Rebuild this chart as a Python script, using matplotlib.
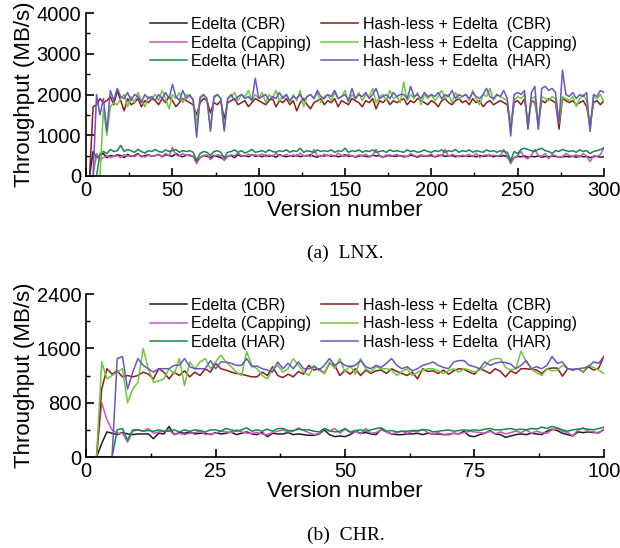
import matplotlib
matplotlib.use('Agg')  # no UI backend

import numpy as np
import matplotlib.pyplot as plt
from matplotlib.ticker import MultipleLocator

# ---- LNX (top), one value every 2 versions: 0, 2, ..., 300
lnx_versions = list(range(0, 301, 2))

lnx_edelta_cbr = [
    0, 0, 600, 450, 500, 550, 450, 500, 480, 520,
    500, 450, 530, 480, 500, 550, 470, 500, 520, 480,
    500, 530, 470, 520, 500, 480, 550, 500, 470, 510,
    500, 480, 350, 450, 500, 480, 450, 500, 480, 450,
    400, 480, 500, 450, 520, 480, 500, 470, 520, 480,
    500, 470, 510, 480, 500, 460, 520, 490, 470, 500,
    480, 510, 470, 500, 490, 520, 480, 460, 500, 490,
    510, 480, 500, 470, 490, 520, 480, 500, 460, 490,
    500, 480, 470, 510, 490, 500, 460, 490, 510, 480,
    490, 500, 470, 480, 510, 490, 460, 500, 480, 490,
    500, 470, 490, 510, 480, 490, 500, 470, 490, 480,
    500, 480, 490, 470, 500, 480, 490, 510, 470, 490,
    480, 500, 470, 350, 450, 480, 470, 490, 460, 480,
    470, 490, 460, 480, 470, 490, 480, 460, 470, 480,
    470, 480, 460, 490, 470, 480, 450, 470, 480, 460, 470]

lnx_edelta_capping = [
    0, 0, 0, 550, 400, 450, 500, 450, 480, 500,
    450, 520, 480, 500, 470, 530, 490, 460, 510, 480,
    500, 520, 480, 550, 500, 700, 520, 480, 550, 500,
    520, 480, 300, 450, 500, 520, 400, 480, 520, 500,
    380, 470, 520, 490, 560, 500, 480, 530, 500, 520,
    500, 540, 470, 520, 480, 550, 500, 490, 530, 480,
    520, 480, 560, 490, 510, 470, 650, 500, 480, 530,
    490, 520, 470, 560, 500, 480, 530, 490, 470, 520,
    500, 530, 480, 500, 660, 490, 450, 520, 480, 500,
    530, 480, 500, 470, 550, 500, 480, 520, 490, 500,
    540, 460, 520, 490, 650, 480, 530, 500, 470, 510,
    490, 530, 470, 560, 450, 500, 520, 480, 510, 490,
    500, 650, 480, 300, 450, 500, 600, 450, 420, 520,
    650, 500, 480, 550, 420, 520, 500, 450, 480, 550,
    500, 480, 520, 460, 550, 480, 350, 500, 480, 520, 700]

lnx_edelta_har = [
    0, 0, 0, 0, 550, 600, 550, 650, 600, 620,
    750, 600, 650, 620, 580, 650, 600, 560, 620, 600,
    650, 600, 580, 640, 600, 620, 650, 580, 620, 600,
    620, 580, 380, 550, 600, 580, 500, 600, 620, 580,
    450, 580, 600, 640, 580, 620, 560, 600, 650, 580,
    600, 620, 580, 640, 600, 580, 620, 600, 640, 580,
    620, 600, 680, 580, 620, 600, 580, 640, 600, 620,
    600, 640, 580, 620, 600, 680, 580, 620, 600, 640,
    580, 620, 600, 640, 580, 600, 620, 580, 640, 600,
    620, 600, 580, 640, 600, 620, 580, 600, 640, 600,
    580, 620, 600, 640, 580, 620, 600, 650, 580, 620,
    600, 640, 580, 620, 600, 580, 640, 600, 620, 580,
    620, 600, 580, 380, 600, 550, 650, 680, 650, 620,
    600, 650, 680, 620, 600, 550, 620, 600, 650, 620,
    600, 620, 580, 640, 600, 620, 550, 600, 620, 650, 680]

lnx_hashless_cbr = [
    0, 0, 1700, 1750, 1900, 1800, 1850, 1950, 1750, 2100,
    1850, 1600, 1900, 1750, 1800, 1900, 1700, 1850, 1800, 1900,
    1850, 1750, 1900, 1800, 1950, 1850, 1700, 1800, 1900, 1850,
    1800, 1750, 1500, 1800, 1900, 1850, 1550, 1800, 1750, 1850,
    1400, 1800, 1850, 1900, 1750, 1800, 1850, 1700, 1800, 1900,
    1850, 1800, 1750, 1850, 1900, 1700, 1850, 1800, 1900, 1750,
    1850, 1600, 1800, 1900, 1750, 1650, 1800, 1850, 1900, 1750,
    1850, 1800, 1900, 1700, 1850, 1800, 1750, 1900, 1850, 1800,
    1700, 1850, 1800, 1900, 1650, 1850, 1800, 1900, 1750, 1850,
    1800, 1850, 1900, 1750, 1850, 1800, 1900, 1850, 1800, 1750,
    1850, 1800, 1700, 1850, 1900, 1800, 1750, 1850, 1900, 1800,
    1850, 1750, 1900, 1800, 1850, 1700, 1800, 1850, 1750, 1800,
    1850, 1800, 1750, 1200, 1800, 1850, 1750, 1900, 1300, 1850,
    1800, 1300, 1850, 1800, 1900, 1850, 1800, 1150, 1900, 1850,
    1800, 1850, 1750, 1800, 1850, 1700, 1250, 1800, 1850, 1750, 1850]

lnx_hashless_capping = [
    0, 0, 0, 0, 0, 1650, 1000, 1700, 1800, 1750,
    1900, 2000, 1700, 1950, 1800, 2050, 1850, 1700, 1950, 1900,
    2000, 1850, 2100, 1900, 1650, 2000, 1900, 2050, 1800, 2000,
    1950, 1900, 1250, 1950, 2000, 1850, 1150, 1900, 2000, 1900,
    1150, 1900, 1950, 2050, 1850, 2000, 1950, 2100, 1850, 2000,
    1900, 2050, 1800, 2000, 1900, 2100, 1850, 1950, 2000, 1800,
    2000, 1850, 2100, 1700, 1950, 2000, 1900, 2050, 1800, 1950,
    2000, 1850, 2050, 1900, 1950, 2100, 1800, 2000, 1900, 2050,
    1850, 2000, 1950, 2150, 1800, 1950, 2000, 1850, 2100, 1900,
    1950, 1800, 2300, 1850, 2000, 1900, 2050, 1750, 2000, 1900,
    2000, 1850, 1950, 2100, 1900, 2000, 1800, 2050, 1900, 1950,
    2000, 1850, 2100, 1900, 1750, 2000, 1950, 2150, 1850, 2000,
    1950, 1900, 1850, 1300, 1850, 1950, 1900, 2000, 1150, 1900,
    1950, 1150, 1950, 1900, 1850, 1950, 1900, 1300, 1950, 1900,
    1850, 1950, 1700, 1900, 2000, 1850, 1100, 1950, 1900, 2000, 1800]

lnx_hashless_har = [
    0, 0, 0, 2000, 1500, 1900, 1100, 2100, 1850, 2150,
    1950, 1900, 2050, 1850, 2000, 1950, 1800, 2000, 1900, 1950,
    1850, 2000, 1900, 2050, 1900, 2250, 1950, 1850, 2100, 1900,
    2000, 1850, 950, 1900, 2000, 1900, 1100, 1950, 2000, 1900,
    1100, 1900, 2000, 1850, 1950, 2000, 1900, 1950, 1850, 2400,
    1900, 1950, 2000, 1850, 1950, 1900, 2050, 1900, 2000, 1850,
    1950, 1900, 2000, 1850, 1950, 2000, 1900, 2100, 1950, 1900,
    2000, 1950, 2100, 1900, 1950, 2000, 1850, 2150, 1900, 2000,
    1950, 2050, 1900, 2000, 2150, 1900, 1950, 2000, 1900, 2050,
    1950, 2000, 2000, 1900, 2200, 1950, 2000, 1900, 2050, 1950,
    2000, 1950, 2050, 1900, 2000, 1950, 2100, 1900, 2000, 1950,
    2000, 1900, 2050, 1950, 1900, 2000, 2150, 1950, 1900, 2000,
    1950, 2100, 1900, 980, 2000, 2050, 2000, 2100, 1150, 2050,
    2200, 1150, 2150, 2200, 2100, 2150, 2050, 1300, 2600, 2000,
    1950, 2050, 1900, 2000, 1950, 2050, 1100, 2000, 1950, 2100, 2050]

# ---- CHR (bottom), versions 0..100
chr_versions = list(range(0, 101))

chr_edelta_cbr = [
    0, 0, 0, 200, 370, 350, 330, 360, 340, 330,
    340, 340, 340, 270, 350, 340, 450, 330, 360, 350,
    370, 340, 350, 350, 330, 360, 340, 350, 370, 330,
    350, 370, 340, 330, 360, 300, 350, 340, 340, 360,
    330, 340, 330, 320, 320, 340, 400, 330, 300, 310,
    300, 330, 380, 350, 360, 340, 330, 410, 370, 340,
    330, 330, 340, 340, 350, 330, 350, 340, 340, 330,
    330, 350, 340, 380, 310, 300, 330, 350, 390, 340,
    330, 290, 310, 330, 340, 330, 350, 340, 330, 380,
    410, 390, 350, 330, 310, 370, 360, 370, 360, 360, 400]

chr_edelta_capping = [
    0, 0, 0, 800, 550, 400, 350, 350, 220, 380,
    400, 380, 420, 350, 370, 380, 400, 330, 350, 330,
    350, 360, 380, 330, 340, 350, 380, 370, 360, 400,
    370, 350, 350, 360, 340, 330, 360, 380, 400, 370,
    380, 430, 390, 360, 330, 350, 420, 380, 420, 350,
    410, 360, 380, 340, 420, 350, 360, 400, 370, 340,
    360, 380, 350, 380, 370, 410, 360, 340, 360, 330,
    340, 350, 340, 360, 380, 370, 360, 350, 380, 340,
    370, 340, 360, 380, 360, 400, 350, 380, 360, 350,
    400, 420, 380, 360, 310, 400, 430, 380, 370, 350, 410]

chr_edelta_har = [
    0, 0, 0, 0, 0, 0, 400, 420, 250, 400,
    400, 380, 390, 380, 400, 380, 380, 400, 370, 400,
    380, 400, 390, 370, 400, 400, 380, 420, 400, 380,
    400, 430, 380, 400, 380, 410, 380, 420, 420, 390,
    390, 410, 400, 400, 380, 370, 420, 390, 370, 380,
    420, 370, 390, 400, 380, 400, 420, 430, 380, 390,
    370, 380, 380, 390, 390, 400, 400, 370, 380, 390,
    400, 380, 390, 400, 390, 400, 390, 410, 420, 400,
    400, 410, 420, 400, 410, 400, 420, 410, 440, 420,
    450, 430, 400, 380, 400, 410, 420, 410, 400, 420, 440]

chr_hashless_cbr = [
    0, 0, 0, 1000, 1300, 1220, 1270, 1180, 1200, 1180,
    1200, 1250, 1220, 1150, 1300, 1250, 1150, 1250, 1200, 1270,
    1180, 1250, 1200, 1300, 1250, 1380, 1300, 1280, 1250, 1230,
    1220, 1200, 1180, 1180, 1250, 1200, 1330, 1200, 1170, 1220,
    1180, 1260, 1220, 1350, 1280, 1300, 1230, 1380, 1350, 1200,
    1280, 1220, 1300, 1200, 1280, 1230, 1270, 1280, 1230, 1300,
    1260, 1230, 1200, 1250, 1150, 1300, 1260, 1270, 1230, 1280,
    1220, 1270, 1300, 1290, 1250, 1220, 1300, 1270, 1230, 1300,
    1260, 1180, 1270, 1230, 1300, 1300, 1290, 1280, 1230, 1300,
    1310, 1310, 1190, 1300, 1280, 1300, 1250, 1330, 1280, 1310, 1480]

chr_hashless_capping = [
    0, 0, 0, 1400, 1150, 1200, 1250, 1300, 800, 1000,
    1100, 1600, 1300, 1100, 1120, 1150, 1300, 1220, 1450, 1050,
    1400, 1300, 1400, 1450, 1300, 1400, 1500, 1400, 1330, 1250,
    1200, 1550, 1350, 1300, 1200, 1150, 1300, 1350, 1250, 1300,
    1450, 1350, 1250, 1200, 1350, 1280, 1230, 1400, 1300, 1450,
    1250, 1350, 1220, 1450, 1300, 1250, 1330, 1300, 1300, 1280,
    1200, 1260, 1300, 1200, 1250, 1280, 1300, 1300, 1270, 1230,
    1270, 1300, 1250, 1300, 1280, 1250, 1280, 1330, 1420, 1450,
    1450, 1320, 1280, 1300, 1560, 1400, 1300, 1240, 1200, 1300,
    1270, 1280, 1350, 1300, 1290, 1300, 1260, 1350, 1320, 1280, 1230]

chr_hashless_har = [
    0, 0, 0, 0, 0, 0, 1450, 1480, 1000, 1250,
    1450, 1350, 1300, 1250, 1300, 1300, 1300, 1350, 1350, 1450,
    1330, 1300, 1300, 1300, 1420, 1300, 1400, 1400, 1380, 1350,
    1350, 1450, 1330, 1340, 1300, 1280, 1250, 1400, 1300, 1380,
    1300, 1400, 1300, 1300, 1330, 1280, 1350, 1450, 1350, 1400,
    1350, 1330, 1350, 1420, 1330, 1300, 1350, 1320, 1380, 1450,
    1350, 1300, 1330, 1270, 1300, 1350, 1370, 1400, 1350, 1320,
    1300, 1400, 1420, 1420, 1350, 1330, 1300, 1400, 1350, 1380,
    1400, 1390, 1370, 1300, 1350, 1420, 1300, 1330, 1300, 1350,
    1480, 1380, 1400, 1300, 1290, 1300, 1310, 1330, 1400, 1380, 1480]

labels = ['Edelta (CBR)', 'Edelta (Capping)', 'Edelta (HAR)',
          'Hash-less + Edelta  (CBR)', 'Hash-less + Edelta  (Capping)',
          'Hash-less + Edelta  (HAR)']
colors = ['#1e1e1e', '#c957b8', '#138a47', '#8e1b1b', '#6cc83c', '#6a55c2']

plt.rcParams['font.family'] = ['Liberation Sans', 'DejaVu Sans']

fig = plt.figure(figsize=(6.2, 5.48), dpi=100)
ax1 = fig.add_axes([0.139, 0.679, 0.835, 0.297])
ax2 = fig.add_axes([0.139, 0.166, 0.835, 0.2975])


def style(ax, xmax, xmaj, ymax, ymaj):
    ax.set_xlim(0, xmax)
    ax.set_ylim(0, ymax)
    ax.xaxis.set_major_locator(MultipleLocator(xmaj))
    ax.xaxis.set_minor_locator(MultipleLocator(xmaj / 2))
    ax.yaxis.set_major_locator(MultipleLocator(ymaj))
    ax.yaxis.set_minor_locator(MultipleLocator(ymaj / 2))
    for s in ['top', 'right']:
        ax.spines[s].set_visible(False)
    for s in ['left', 'bottom']:
        ax.spines[s].set_linewidth(1.2)
    ax.tick_params(which='major', direction='in', length=6, width=1.2, labelsize=14.5)
    ax.tick_params(which='minor', direction='in', length=3, width=1.0)
    ax.set_xlabel('Version number', fontsize=16, labelpad=0)
    ax.set_ylabel('Throughput (MB/s)', fontsize=16, labelpad=1)


series1 = [lnx_edelta_cbr, lnx_edelta_capping, lnx_edelta_har,
           lnx_hashless_cbr, lnx_hashless_capping, lnx_hashless_har]
series2 = [chr_edelta_cbr, chr_edelta_capping, chr_edelta_har,
           chr_hashless_cbr, chr_hashless_capping, chr_hashless_har]

for ax, xs, series in [(ax1, lnx_versions, series1), (ax2, chr_versions, series2)]:
    for ys, c, lab in zip(series, colors, labels):
        ax.plot(xs, ys, color=c, linewidth=1.1, label=lab)
    ax.legend(ncol=2, loc='upper center', bbox_to_anchor=(0.535, 1.045),
              frameon=False, fontsize=11.5, handlelength=2.3, handletextpad=0.3,
              labelspacing=0.22, columnspacing=0.6, borderpad=0.2)

style(ax1, 300, 50, 4000, 1000)
style(ax2, 100, 25, 2400, 800)

fig.text(0.557, 0.538, '(a)  LNX.', ha='center', va='center',
         family='Liberation Serif', fontsize=14)
fig.text(0.557, 0.024, '(b)  CHR.', ha='center', va='center',
         family='Liberation Serif', fontsize=14)

plt.savefig('out.png', dpi=100)
